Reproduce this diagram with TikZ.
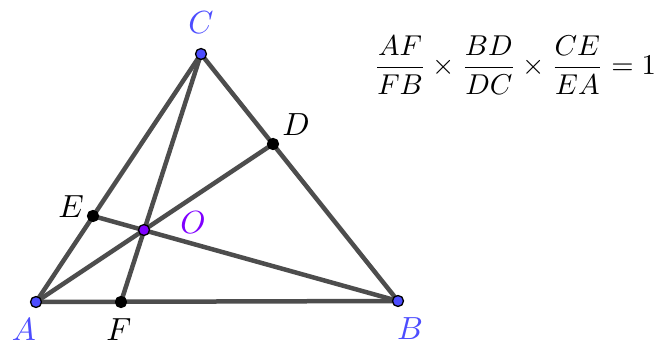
\documentclass[tikz,border=0pt]{standalone}
\usepackage{amsmath}
\begin{document}
\begin{tikzpicture}[x=1pt,y=-1pt,
  seg/.style={draw=segc,line width=4.5pt,line cap=round},
  pt/.style={circle,draw=black,line width=1.3pt,minimum size=11pt,inner sep=0pt},
  lbl/.style={inner sep=0pt}]
\definecolor{segc}{RGB}{77,77,77}
\definecolor{ptblue}{RGB}{77,77,255}
\definecolor{ptpurple}{RGB}{127,0,255}
\useasboundingbox (0,0) rectangle (662,347);
\coordinate (A) at (36,302);
\coordinate (B) at (398,301);
\coordinate (C) at (201,54);
\coordinate (D) at (273,144);
\coordinate (E) at (93,216);
\coordinate (F) at (121,302);
\coordinate (O) at (144,230);
\draw[seg] (A) -- (B) -- (C) -- cycle;
\draw[seg] (A) -- (D);
\draw[seg] (B) -- (E);
\draw[seg] (C) -- (F);
\node[pt,fill=ptblue] (pA) at (A) {};
\node[pt,fill=ptblue] (pB) at (B) {};
\node[pt,fill=ptblue] (pC) at (C) {};
\node[pt,fill=black] (pD) at (D) {};
\node[pt,fill=black] (pE) at (E) {};
\node[pt,fill=black] (pF) at (F) {};
\node[pt,fill=ptpurple] (pO) at (O) {};
\node[lbl,text=ptblue] (lA) at (24,330) {\scalebox{3.2}{$A$}};
\node[lbl,text=ptblue] (lB) at (410,329) {\scalebox{3.2}{$B$}};
\node[lbl,text=ptblue] (lC) at (201,23) {\scalebox{3.2}{$C$}};
\node[lbl] (lD) at (296,125) {\scalebox{3.2}{$D$}};
\node[lbl] (lE) at (71,207) {\scalebox{3.2}{$E$}};
\node[lbl] (lF) at (119,330) {\scalebox{3.2}{$F$}};
\node[lbl,text=ptpurple] (lO) at (193,223) {\scalebox{3.2}{$O$}};
\node[inner sep=0pt] (eq) at (515,65)
  {\scalebox{2.87}{$\dfrac{AF}{FB}\times\dfrac{BD}{DC}\times\dfrac{CE}{EA}=1$}};
\end{tikzpicture}
\end{document}
